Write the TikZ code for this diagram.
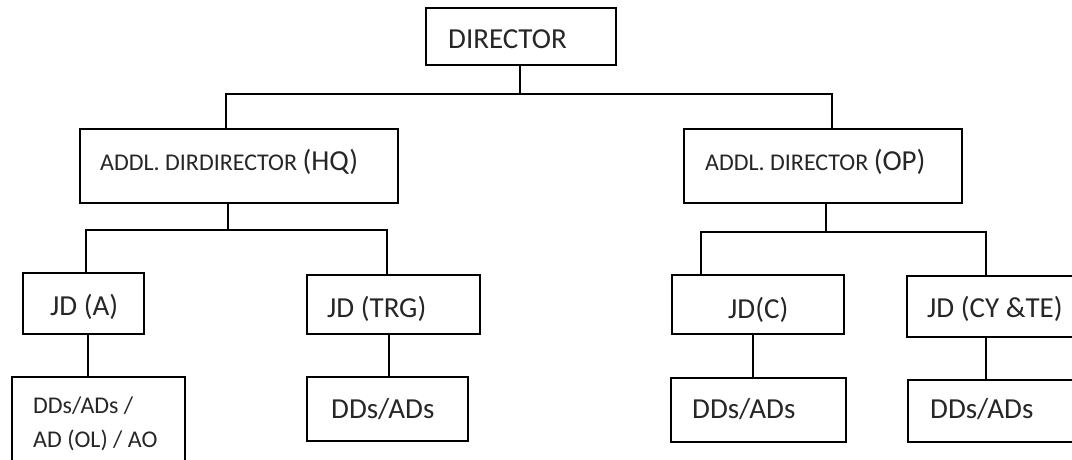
\documentclass[tikz,border=0pt]{standalone}
\usepackage{fontspec}
\setmainfont{Carlito}
\begin{document}
\begin{tikzpicture}[x=1pt,y=-1pt,
  box/.style={draw=black, line width=1.7pt, rectangle, inner sep=0pt},
  conn/.style={draw=black, line width=1.4pt},
  txt/.style={anchor=base west, inner sep=0pt, text=black!85},
  big/.style={font=\fontsize{29}{34}\selectfont},
  small/.style={font=\fontsize{24}{28}\selectfont}]
\useasboundingbox (0,0) rectangle (1072,459);
\clip (0,0) rectangle (1072,459);
% boxes
\node[box, minimum width=190pt, minimum height=57pt] (dir) at (521,36.5) {};
\node[box, minimum width=318pt, minimum height=74pt] (hq) at (239,166) {};
\node[box, minimum width=278pt, minimum height=74pt] (op) at (823,166) {};
\node[box, minimum width=121pt, minimum height=61pt] (jda) at (83.5,303.5) {};
\node[box, minimum width=173pt, minimum height=59pt] (jdt) at (393.5,304.5) {};
\node[box, minimum width=172pt, minimum height=59pt] (jdc) at (758,304.5) {};
\node[box, minimum width=186pt, minimum height=61pt] (jdcy) at (1000,306.5) {};
\node[box, minimum width=173pt, minimum height=106pt] (dda) at (98.5,430) {};
\node[box, minimum width=161pt, minimum height=64pt] (ddt) at (387.5,409) {};
\node[box, minimum width=175pt, minimum height=64pt] (ddc) at (758.5,410) {};
\node[box, minimum width=184pt, minimum height=62pt] (ddcy) at (1000,411) {};
% texts
\node[txt, big] (tdir) at (448,48) {DIRECTOR};
\node[txt] (thq) at (100,170) {{\fontsize{24}{28}\selectfont ADDL. DIRDIRECTOR }{\fontsize{29}{34}\selectfont (HQ)}};
\node[txt] (top) at (705,170) {{\fontsize{24}{28}\selectfont ADDL. DIRECTOR }{\fontsize{29}{34}\selectfont (OP)}};
\node[txt, big] (tjda) at (50,315) {JD (A)};
\node[txt, big] (tjdt) at (327,317) {JD (TRG)};
\node[txt, big] (tjdc) at (728,318) {JD(C)};
\node[txt, big] (tjdcy) at (927,317) {JD (CY \&TE)};
\node[txt, small] (tdda1) at (33,413) {DDs/ADs /};
\node[txt, small] (tdda2) at (33,447) {AD (OL) / AO};
\node[txt, big] (tddt) at (331,418) {DDs/ADs};
\node[txt, big] (tddc) at (692,418) {DDs/ADs};
\node[txt, big] (tddcy) at (930,418) {DDs/ADs};
% bus coordinates
\coordinate (b1m) at (520,94);
\coordinate (b1l) at (226,94);
\coordinate (b1r) at (832,94);
\coordinate (b2m) at (228,230);
\coordinate (b2l) at (86,230);
\coordinate (b2r) at (387,230);
\coordinate (b3m) at (826,232);
\coordinate (b3l) at (701,232);
\coordinate (b3r) at (986,232);
\coordinate (va) at (88,0);
\coordinate (vt) at (389,0);
\coordinate (vc) at (753,0);
\coordinate (vcy) at (986,0);
% connectors
\draw[conn] (dir.south -| b1m) -- (b1m);
\draw[conn] (hq.north -| b1l) -- (b1l) -- (b1r) -- (op.north -| b1r);
\draw[conn] (hq.south -| b2m) -- (b2m);
\draw[conn] (jda.north -| b2l) -- (b2l) -- (b2r) -- (jdt.north -| b2r);
\draw[conn] (op.south -| b3m) -- (b3m);
\draw[conn] (jdc.north -| b3l) -- (b3l) -- (b3r) -- (jdcy.north -| b3r);
\draw[conn] (jda.south -| va) -- (dda.north -| va);
\draw[conn] (jdt.south -| vt) -- (ddt.north -| vt);
\draw[conn] (jdc.south -| vc) -- (ddc.north -| vc);
\draw[conn] (jdcy.south -| vcy) -- (ddcy.north -| vcy);
\end{tikzpicture}
\end{document}
